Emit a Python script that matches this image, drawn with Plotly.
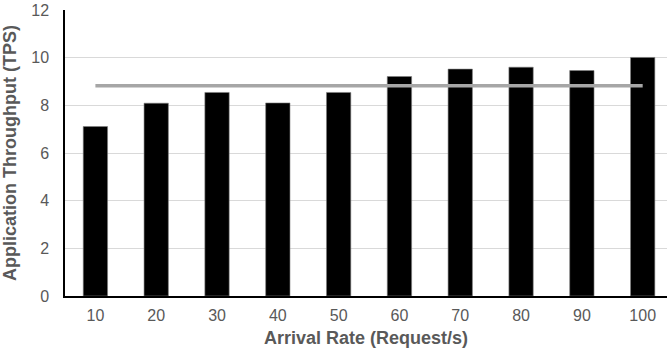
import plotly.graph_objects as go

categories = ["10", "20", "30", "40", "50", "60", "70", "80", "90", "100"]
throughput = [7.11, 8.09, 8.54, 8.10, 8.54, 9.21, 9.52, 9.60, 9.46, 10.01]
average_value = 8.82
average_line = [average_value] * len(categories)
y_ticks = [0, 2, 4, 6, 8, 10, 12]

fig = go.Figure()
fig.add_trace(go.Bar(
    x=categories, y=throughput,
    marker=dict(color="#000000", line=dict(color="#7f7f7f", width=0.6)),
    width=0.4, showlegend=False,
))
fig.add_trace(go.Scatter(
    x=categories, y=average_line, mode="lines",
    line=dict(color="#A6A6A6", width=3.5),
    showlegend=False,
))

font_family = "Liberation Sans, Arial, sans-serif"
fig.update_layout(
    width=667, height=356,
    margin=dict(l=65, r=0, t=10, b=60),
    paper_bgcolor="white", plot_bgcolor="white",
    font=dict(family=font_family, size=16, color="#595959"),
    xaxis=dict(
        type="category", automargin=False,
        range=[-0.5, 9.4],
        showline=True, linecolor="#000000", linewidth=1.5,
        showgrid=False, ticks="", ticklabelstandoff=4,
        tickfont=dict(size=16, color="#595959"),
        title=dict(text="<b>Arrival Rate (Request/s)</b>", font=dict(size=18, color="#595959"), standoff=8),
    ),
    yaxis=dict(
        range=[0, 12], tickvals=y_ticks, automargin=False,
        showline=True, linecolor="#000000", linewidth=1.5,
        showgrid=True, gridcolor="#D9D9D9", gridwidth=1,
        zeroline=False, ticks="", ticklabelstandoff=11,
        tickfont=dict(size=16, color="#595959"),
        title=dict(text="<b>Application Throughput (TPS)</b>", font=dict(size=18, color="#595959"), standoff=10),
    ),
)

fig.write_html(
    "out.html",
    config={"displayModeBar": False},
    post_script="document.body.style.margin='0';document.body.style.overflow='hidden';",
)
